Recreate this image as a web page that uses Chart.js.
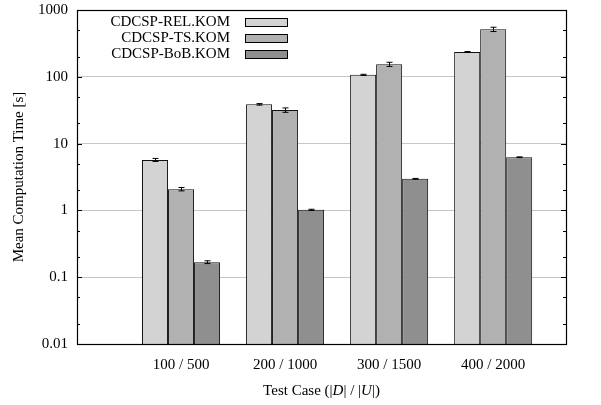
<!DOCTYPE html>
<html>
<head>
<meta charset="utf-8">
<script src="https://cdn.jsdelivr.net/npm/chart.js@4/dist/chart.umd.min.js"></script>
<style>
  html, body { margin: 0; padding: 0; background: #fff; }
  canvas { display: block; }
</style>
</head>
<body>
<canvas id="c" width="601" height="405"></canvas>
<script>
// Test cases (|D| / |U|)
const categories = ['100 / 500', '200 / 1000', '300 / 1500', '400 / 2000'];
const seriesNames = ['CDCSP-REL.KOM', 'CDCSP-TS.KOM', 'CDCSP-BoB.KOM'];

// Mean computation time [s] and standard error per test case
const relMean = [5.7, 38.7, 107, 235];
const relErr  = [0.3, 1.0, 2.0, 4.0];
const tsMean  = [2.08, 31.8, 154, 514];
const tsErr   = [0.12, 2.4, 11, 38];
const bobMean = [0.168, 1.02, 2.97, 6.25];
const bobErr  = [0.008, 0.02, 0.04, 0.08];

// Decade ticks of the logarithmic time axis
const yTicks = [0.01, 0.1, 1, 10, 100, 1000];

const fills = ['#d3d3d3', '#b1b1b1', '#8f8f8f'];
const FONT = 'Liberation Serif, Times New Roman, serif';

function toPoints(vals) { return vals.map((v, i) => ({ x: i + 1, y: v })); }

const means = [relMean, tsMean, bobMean];
const errs = [relErr, tsErr, bobErr];

// Error bars, inward tick marks, frame, legend and x-axis title
const decorations = {
  id: 'decorations',
  afterDatasetsDraw(chart) {
    const ctx = chart.ctx;
    const ys = chart.scales.y;
    const area = chart.chartArea;
    ctx.save();

    // error bars
    ctx.strokeStyle = '#000';
    ctx.lineWidth = 1;
    chart.data.datasets.forEach((ds, di) => {
      const meta = chart.getDatasetMeta(di);
      meta.data.forEach((bar, i) => {
        const m = means[di][i], e = errs[di][i];
        const yTop = ys.getPixelForValue(m + e);
        const yBot = ys.getPixelForValue(m - e);
        const x = Math.round(bar.x) + 0.5;
        ctx.beginPath();
        ctx.moveTo(x, yTop); ctx.lineTo(x, yBot);
        ctx.moveTo(x - 3, yTop); ctx.lineTo(x + 3, yTop);
        ctx.moveTo(x - 3, yBot); ctx.lineTo(x + 3, yBot);
        ctx.stroke();
      });
    });

    // tick marks on left and right axes
    ctx.strokeStyle = '#000';
    ctx.beginPath();
    for (let d = -2; d < 3; d++) {
      for (const k of [1, 2, 5]) {
        const v = k * Math.pow(10, d);
        const y = Math.round(ys.getPixelForValue(v)) + 0.5;
        const len = k === 1 ? 5 : 3;
        ctx.moveTo(area.left, y); ctx.lineTo(area.left + len, y);
        ctx.moveTo(area.right, y); ctx.lineTo(area.right - len, y);
      }
    }
    ctx.stroke();

    // frame
    ctx.lineWidth = 1.2;
    ctx.strokeRect(Math.round(area.left) + 0.5, Math.round(area.top) + 0.5,
                   Math.round(area.right - area.left), Math.round(area.bottom - area.top));

    // legend: right-aligned labels followed by swatches
    ctx.font = '15px ' + FONT;
    ctx.textAlign = 'right';
    ctx.textBaseline = 'middle';
    chart.data.datasets.forEach((ds, di) => {
      const y = 22 + di * 16;
      ctx.fillStyle = '#000';
      ctx.fillText(ds.label, 230, y);
      ctx.fillStyle = ds.backgroundColor;
      ctx.fillRect(245.5, y - 3.5, 42, 8);
      ctx.lineWidth = 1;
      ctx.strokeRect(245.5, y - 3.5, 42, 8);
    });

    // x-axis title with italic set symbols
    const parts = [
      ['Test Case (|', false], ['D', true], ['| / |', false], ['U', true], ['|)', false]
    ];
    let total = 0;
    parts.forEach(p => {
      ctx.font = (p[1] ? 'italic ' : '') + '15px ' + FONT;
      total += ctx.measureText(p[0]).width;
    });
    let x = (area.left + area.right) / 2 - total / 2;
    ctx.textAlign = 'left';
    ctx.fillStyle = '#000';
    parts.forEach(p => {
      ctx.font = (p[1] ? 'italic ' : '') + '15px ' + FONT;
      ctx.fillText(p[0], x, 391);
      x += ctx.measureText(p[0]).width;
    });

    ctx.restore();
  }
};

new Chart(document.getElementById('c'), {
  type: 'bar',
  data: {
    datasets: seriesNames.map((name, i) => ({
      label: name,
      data: toPoints(means[i]),
      backgroundColor: fills[i],
      borderColor: '#111',
      borderWidth: 1,
      categoryPercentage: 0.75,
      barPercentage: 1.0
    }))
  },
  options: {
    responsive: false,
    animation: false,
    devicePixelRatio: 1,
    layout: { padding: { left: 0, right: 35, top: 10, bottom: 0 } },
    plugins: { legend: { display: false }, tooltip: { enabled: false } },
    scales: {
      x: {
        type: 'linear',
        min: 0,
        max: 4.7,
        offset: false,
        afterBuildTicks(scale) { scale.ticks = categories.map((c, i) => ({ value: i + 1 })); },
        afterFit(scale) { scale.height = 61; scale.paddingLeft = 0; scale.paddingRight = 0; },
        grid: { display: false, drawTicks: false },
        border: { display: false },
        ticks: {
          autoSkip: false,
          maxRotation: 0,
          padding: 12,
          color: '#000',
          font: { family: FONT, size: 15 },
          callback: (v) => categories[v - 1] || ''
        }
      },
      y: {
        type: 'logarithmic',
        min: 0.01,
        max: 1000,
        afterBuildTicks(scale) { scale.ticks = yTicks.map(v => ({ value: v })); },
        afterFit(scale) { scale.width = 77; scale.paddingTop = 0; scale.paddingBottom = 0; },
        grid: {
          drawTicks: false,
          color: (c) => (c.tick && (c.tick.value === 0.01 || c.tick.value === 1000)) ? 'rgba(0,0,0,0)' : '#c6c6c6',
          lineWidth: 1
        },
        border: { display: false },
        title: {
          display: true,
          text: 'Mean Computation Time [s]',
          color: '#000',
          font: { family: FONT, size: 15 },
          padding: { top: 10, bottom: 0 }
        },
        ticks: {
          padding: 9,
          color: '#000',
          font: { family: FONT, size: 15 },
          callback: (v) => String(v)
        }
      }
    }
  },
  plugins: [decorations]
});
</script>
</body>
</html>
